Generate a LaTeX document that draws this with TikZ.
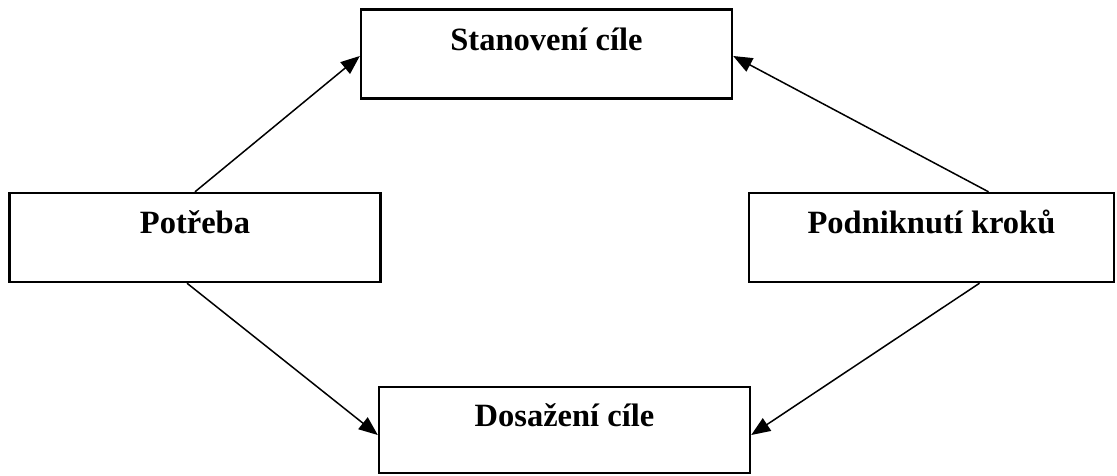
\documentclass[tikz,border=0pt]{standalone}
\usepackage{fontspec}
\setmainfont{Liberation Serif}
\usetikzlibrary{arrows.meta,positioning}

\begin{document}
\begin{tikzpicture}[x=1pt,y=-1pt,>={Triangle[length=19pt,width=15pt]},
    box/.style={draw,line width=2.4pt,inner sep=0pt,text height=22pt,text depth=30pt,
        minimum width=371pt,minimum height=89pt,font=\fontsize{32.5}{38}\selectfont\bfseries},
    arr/.style={->,line width=1.5pt}]
    \useasboundingbox (0,0) rectangle (1117,475);
    \node[box] (S) at (546.5,54) {Stanovení cíle};
    \node[box] (P) at (195,237.5) {Potřeba};
    \node[box,minimum width=365pt] (K) at (931.5,237.5) {Podniknutí kroků};
    \node[box,minimum height=86pt] (D) at (564.5,430) {Dosažení cíle};
    \draw[arr] (P.north) to ([yshift=-2pt]S.west);
    \draw[arr] ([xshift=57pt]K.north) to ([yshift=-2pt]S.east);
    \draw[arr] ([xshift=-8pt]P.south) to ([yshift=-5pt]D.west);
    \draw[arr] ([xshift=48pt]K.south) to ([yshift=-5pt]D.east);
\end{tikzpicture}
\end{document}
